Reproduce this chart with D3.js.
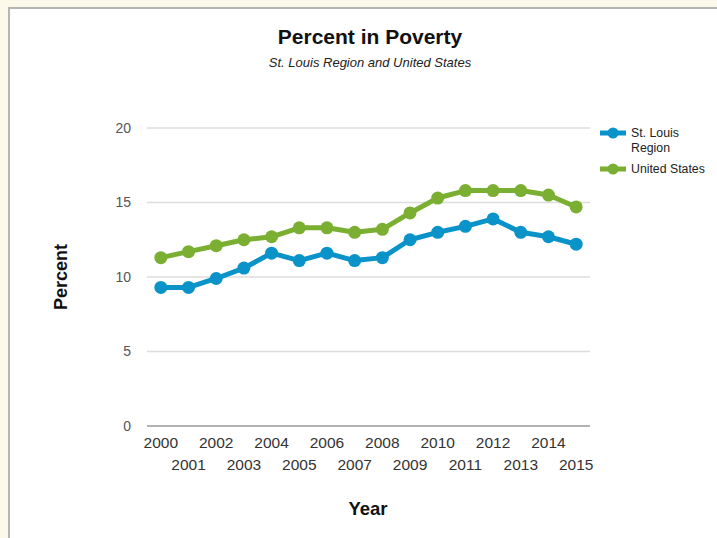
<!DOCTYPE html>
<html>
<head>
<meta charset="utf-8">
<script src="https://cdn.jsdelivr.net/npm/d3@7"></script>
<style>
  body { margin: 0; background: #fcf9ea; }
  #chart { position: absolute; left: 8px; top: 7px; width: 720px; height: 540px;
           background: #fff; border-left: 2px solid #b4b4b0; border-top: 2px solid #b4b4b0; }
  text { font-family: Arial, "Liberation Sans", sans-serif; }
</style>
</head>
<body>
<div id="chart"></div>
<script>
// Data
var years = ["2000","2001","2002","2003","2004","2005","2006","2007",
             "2008","2009","2010","2011","2012","2013","2014","2015"];
var stlValues = [9.3, 9.3, 9.9, 10.6, 11.6, 11.1, 11.6, 11.1,
                 11.3, 12.5, 13.0, 13.4, 13.9, 13.0, 12.7, 12.2];
var usValues = [11.3, 11.7, 12.1, 12.5, 12.7, 13.3, 13.3, 13.0,
                13.2, 14.3, 15.3, 15.8, 15.8, 15.8, 15.5, 14.7];
var yTicks = [0, 5, 10, 15, 20];
var seriesNames = ["St. Louis Region", "United States"];
var colors = ["#0a93c8", "#7aaf32"];

// Chart area (page coords; svg starts at 10,9)
var svgWidth = 710;
var svgHeight = 530;
var offX = 10, offY = 9;

var margin = { top: 128 - offY, left: 147 - offX };
var width = 443;
var height = 298;

var svg = d3.select("#chart")
    .append("svg")
        .attr("width", svgWidth)
        .attr("height", svgHeight);

var g = svg.append("g")
    .attr("transform", `translate(${margin.left}, ${margin.top})`);

// Scales
var xScale = d3.scaleBand()
    .domain(years)
    .range([0, width]);

var yScale = d3.scaleLinear()
    .domain([0, 20])
    .range([height, 0]);

// Gridlines
g.selectAll("line.grid")
    .data(yTicks.filter(d => d > 0))
    .enter()
    .append("line")
        .attr("class", "grid")
        .attr("x1", 0)
        .attr("x2", width)
        .attr("y1", d => yScale(d))
        .attr("y2", d => yScale(d))
        .attr("stroke", "#dcdcdc")
        .attr("stroke-width", 1.5);

// baseline
g.append("line")
    .attr("x1", 0)
    .attr("x2", width)
    .attr("y1", yScale(0))
    .attr("y2", yScale(0))
    .attr("stroke", "#999")
    .attr("stroke-width", 1.5);

// Y axis labels
var yAxis = g.append("g")
    .call(d3.axisLeft(yScale).tickValues(yTicks).tickSize(0).tickPadding(16));
yAxis.select(".domain").remove();
yAxis.selectAll("text")
    .attr("font-size", 14)
    .attr("fill", "#555")
    .attr("font-family", "Arial, 'Liberation Sans', sans-serif");

// X axis labels, staggered
var xAxis = g.append("g")
    .attr("transform", "translate(0," + height + ")")
    .call(d3.axisBottom(xScale).tickSize(0).tickPadding(0));
xAxis.select(".domain").remove();
xAxis.selectAll("text")
    .attr("font-size", 15.5)
    .attr("fill", "#333")
    .attr("font-family", "Arial, 'Liberation Sans', sans-serif")
    .attr("dy", null)
    .attr("y", (d, i) => i % 2 === 0 ? 22 : 44);

// Lines and points
var allSeries = [stlValues, usValues];
var line = d3.line()
    .x((d, i) => xScale(years[i]) + xScale.bandwidth() / 2)
    .y(d => yScale(d));

allSeries.forEach(function(vals, s) {
    g.append("path")
        .datum(vals)
        .attr("d", line)
        .attr("fill", "none")
        .attr("stroke", colors[s])
        .attr("stroke-width", 5)
        .attr("stroke-linejoin", "round");

    g.selectAll("circle.s" + s)
        .data(vals)
        .enter()
        .append("circle")
            .attr("class", "s" + s)
            .attr("cx", (d, i) => xScale(years[i]) + xScale.bandwidth() / 2)
            .attr("cy", d => yScale(d))
            .attr("r", 6.5)
            .attr("fill", colors[s]);
});

// Titles
svg.append("text")
    .attr("x", 370 - offX)
    .attr("y", 44 - offY)
    .attr("text-anchor", "middle")
    .attr("font-size", 21)
    .attr("font-weight", "bold")
    .attr("fill", "#111")
    .text("Percent in Poverty");

svg.append("text")
    .attr("x", 370 - offX)
    .attr("y", 67 - offY)
    .attr("text-anchor", "middle")
    .attr("font-size", 13)
    .attr("font-style", "italic")
    .attr("fill", "#222")
    .text("St. Louis Region and United States");

// Axis titles
svg.append("text")
    .attr("x", 368 - offX)
    .attr("y", 515 - offY)
    .attr("text-anchor", "middle")
    .attr("font-size", 18.5)
    .attr("font-weight", "bold")
    .attr("fill", "#111")
    .text("Year");

svg.append("text")
    .attr("transform", "translate(" + (67 - offX) + "," + (277 - offY) + ") rotate(-90)")
    .attr("text-anchor", "middle")
    .attr("font-size", 18)
    .attr("font-weight", "bold")
    .attr("fill", "#111")
    .text("Percent");

// Legend
var legendRows = [[seriesNames[0].replace(" Region", ""), "Region"], [seriesNames[1]]];
var legendY = [133, 169];
legendRows.forEach(function(lines, s) {
    var ly = legendY[s] - offY;
    var lg = svg.append("g").attr("transform", "translate(" + (600 - offX) + "," + ly + ")");
    lg.append("line")
        .attr("x1", 0).attr("x2", 26)
        .attr("y1", 0).attr("y2", 0)
        .attr("stroke", colors[s])
        .attr("stroke-width", 5);
    lg.append("circle")
        .attr("cx", 13).attr("cy", 0).attr("r", 5.5)
        .attr("fill", colors[s]);
    lines.forEach(function(t, j) {
        lg.append("text")
            .attr("x", 31)
            .attr("y", 4 + j * 15)
            .attr("font-size", 12.3)
            .attr("fill", "#222")
            .text(t);
    });
});
</script>
</body>
</html>
